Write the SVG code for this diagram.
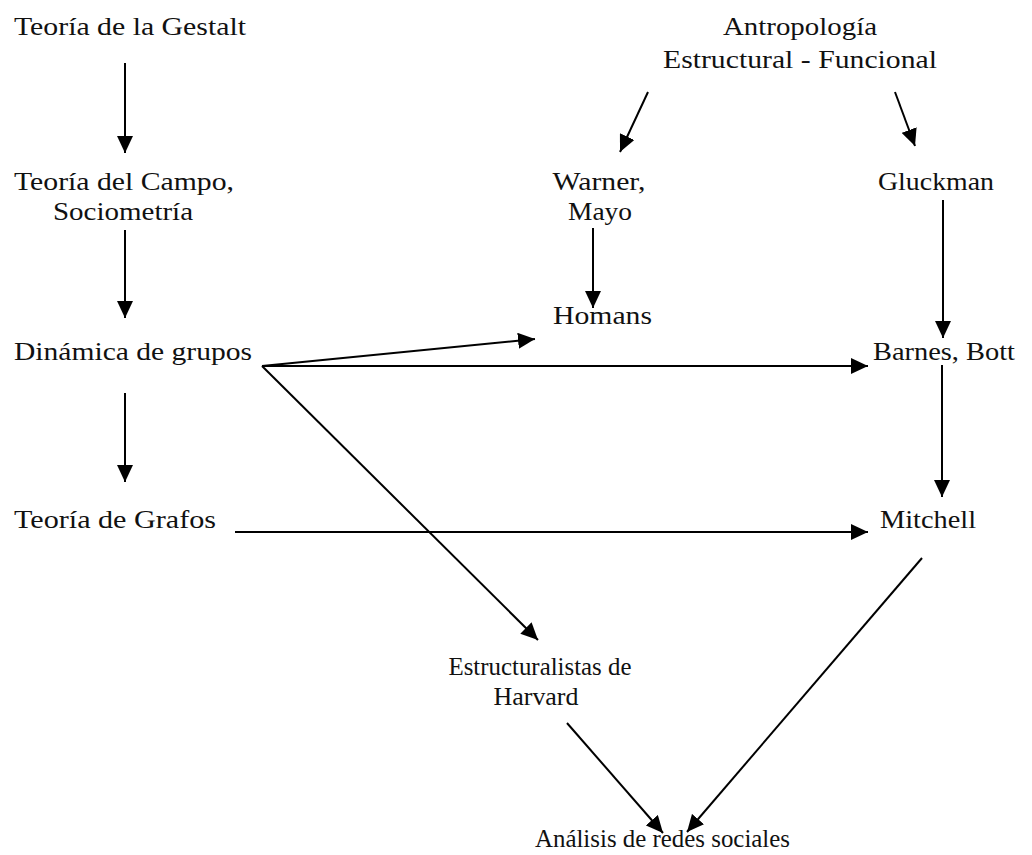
<svg xmlns="http://www.w3.org/2000/svg" width="1032" height="855" viewBox="0 0 1032 855">
<defs>
<marker id="ah" markerUnits="userSpaceOnUse" markerWidth="18" markerHeight="16" refX="17" refY="8" orient="auto"><path d="M0,0 L17,8 L0,16 z" fill="#000"/></marker>
<style>
text{font-family:"Liberation Serif","DejaVu Serif",serif;font-size:26px;fill:#111}
.c{text-anchor:middle}
.e line{stroke:#000;stroke-width:2;marker-end:url(#ah)}
</style>
</defs>
<rect width="1032" height="855" fill="#fff"/>
<g id="gestalt"><text x="14" y="35" textLength="232" lengthAdjust="spacingAndGlyphs">Teoría de la Gestalt</text></g>
<g id="campo"><text x="14" y="190" textLength="220" lengthAdjust="spacingAndGlyphs">Teoría del Campo,</text><text x="123" y="220" class="c" textLength="140" lengthAdjust="spacingAndGlyphs">Sociometría</text></g>
<g id="dinamica"><text x="14" y="360" textLength="238" lengthAdjust="spacingAndGlyphs">Dinámica de grupos</text></g>
<g id="grafos"><text x="14" y="528" textLength="202" lengthAdjust="spacingAndGlyphs">Teoría de Grafos</text></g>
<g id="antropologia"><text x="800" y="35" class="c" textLength="154" lengthAdjust="spacingAndGlyphs">Antropología</text><text x="800" y="68" class="c" textLength="274" lengthAdjust="spacingAndGlyphs">Estructural - Funcional</text></g>
<g id="warner"><text x="599" y="190" class="c" textLength="93" lengthAdjust="spacingAndGlyphs">Warner,</text><text x="600" y="220" class="c" textLength="64" lengthAdjust="spacingAndGlyphs">Mayo</text></g>
<g id="gluckman"><text x="878" y="190" textLength="116" lengthAdjust="spacingAndGlyphs">Gluckman</text></g>
<g id="homans"><text x="553" y="324" textLength="99" lengthAdjust="spacingAndGlyphs">Homans</text></g>
<g id="barnes"><text x="873" y="360" textLength="142" lengthAdjust="spacingAndGlyphs">Barnes, Bott</text></g>
<g id="mitchell"><text x="880" y="528" textLength="96" lengthAdjust="spacingAndGlyphs">Mitchell</text></g>
<g id="harvard"><text x="540" y="675" class="c" textLength="183" lengthAdjust="spacingAndGlyphs">Estructuralistas de</text><text x="536" y="705" class="c" textLength="85" lengthAdjust="spacingAndGlyphs">Harvard</text></g>
<g id="analisis"><text x="535" y="847" textLength="255" lengthAdjust="spacingAndGlyphs">Análisis de redes sociales</text></g>
<g id="connectors" class="e">
<line x1="125" y1="63" x2="125" y2="153"/>
<line x1="125" y1="230" x2="125" y2="318"/>
<line x1="125" y1="393" x2="125" y2="482"/>
<line x1="235" y1="532" x2="868" y2="532"/>
<line x1="648" y1="92" x2="620" y2="152"/>
<line x1="895" y1="92" x2="915" y2="146"/>
<line x1="593" y1="228" x2="593" y2="308"/>
<line x1="943" y1="200" x2="943" y2="338"/>
<line x1="262" y1="366" x2="535" y2="339"/>
<line x1="262" y1="366" x2="868" y2="366"/>
<line x1="262" y1="366" x2="538" y2="640"/>
<line x1="942" y1="365" x2="942" y2="497"/>
<line x1="567" y1="723" x2="663" y2="833"/>
<line x1="922" y1="558" x2="687" y2="832"/>
</g>
</svg>
